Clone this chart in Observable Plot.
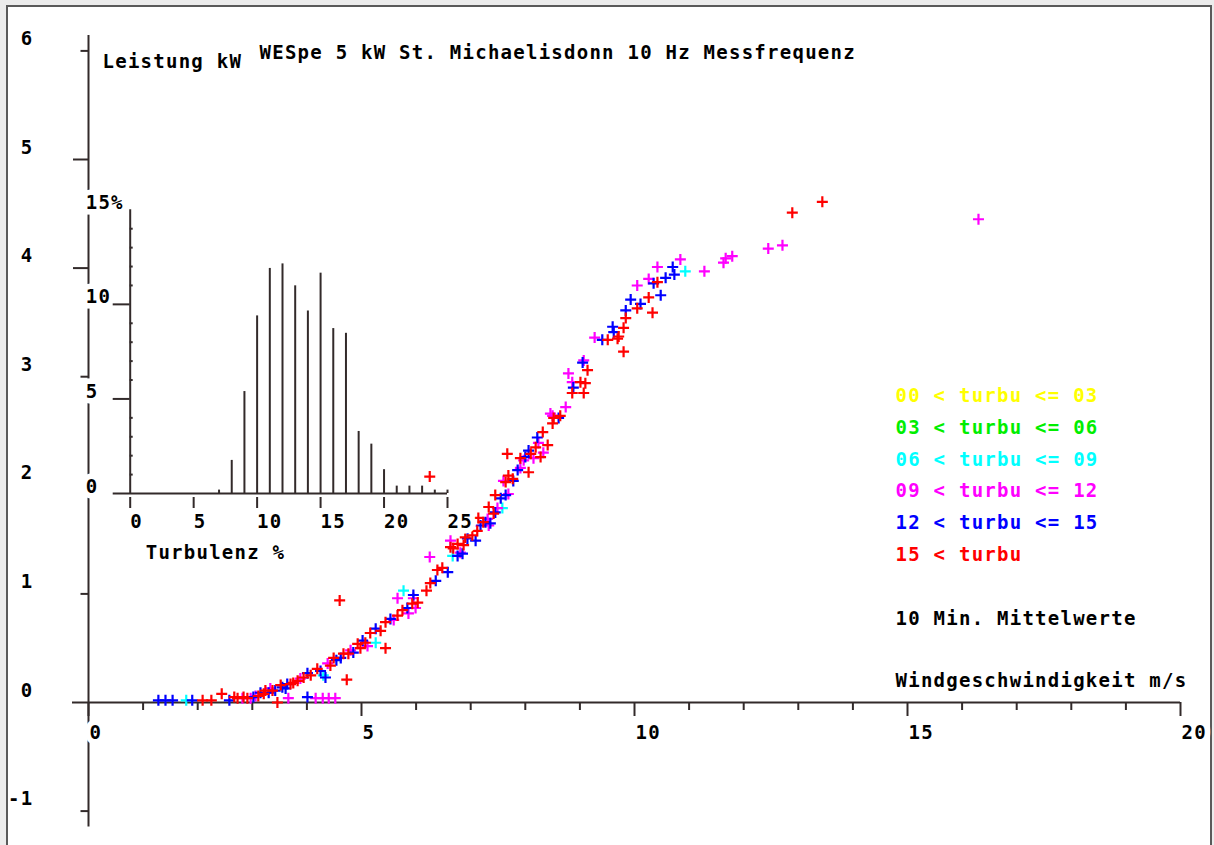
<!DOCTYPE html>
<html><head><meta charset="utf-8">
<script src="https://cdn.jsdelivr.net/npm/d3@7"></script>
<script src="https://cdn.jsdelivr.net/npm/@observablehq/plot@0.6"></script>
<style>
html,body{margin:0;padding:0;background:#fff;}
#wrap{position:relative;width:1214px;height:845px;overflow:hidden;background:#ececec;}
#frame{position:absolute;left:6px;top:5px;width:1206px;height:900px;background:#fff;border:2px solid #5a5a5a;box-sizing:border-box;}
#wrap svg{position:absolute;left:0;top:0;}
#wrap svg text{letter-spacing:1.25px;}
</style></head><body>
<div id="wrap"><div id="frame"></div></div>
<script>
// ---------- data ----------
// 06 < turbu <= 09 (cyan)
const ws_06_09 = [1.79, 4.30, 5.26, 5.77, 6.67, 7.58, 10.93];
const kw_06_09 = [0.02, 0.25, 0.55, 1.03, 1.35, 1.79, 3.97];
// 09 < turbu <= 12 (magenta)
const ws_09_12 = [2.82, 2.97, 3.06, 3.33, 3.66, 3.88, 4.16, 4.29, 4.40, 4.52, 4.38, 4.80, 5.11, 5.59, 5.86, 5.99, 5.66, 5.95, 6.25, 6.63, 6.81, 7.31, 7.33, 7.49, 7.60, 7.69, 7.91, 7.97, 8.15, 8.24, 8.33, 8.50, 8.46, 8.74, 8.79, 8.86, 9.07, 9.27, 10.05, 10.26, 10.42, 10.84, 11.28, 11.63, 11.67, 11.79, 12.45, 12.71, 16.30];
const kw_09_12 = [0.04, 0.04, 0.06, 0.13, 0.04, 0.22, 0.04, 0.04, 0.04, 0.04, 0.36, 0.48, 0.52, 0.76, 0.82, 0.87, 0.96, 0.96, 1.34, 1.49, 1.38, 1.69, 1.63, 1.79, 2.04, 1.92, 2.16, 2.23, 2.25, 2.39, 2.30, 2.64, 2.66, 2.72, 3.03, 2.95, 3.15, 3.36, 3.84, 3.90, 4.01, 4.08, 3.97, 4.05, 4.09, 4.11, 4.18, 4.21, 4.45];
// 12 < turbu <= 15 (blue)
const ws_12_15 = [1.28, 1.41, 1.54, 1.90, 2.58, 3.02, 3.15, 3.30, 3.42, 3.55, 3.61, 3.64, 4.01, 4.01, 4.25, 4.34, 4.54, 4.62, 4.85, 5.02, 5.26, 5.53, 5.84, 5.95, 6.36, 6.58, 6.76, 6.85, 6.94, 7.09, 7.18, 7.27, 7.36, 7.45, 7.55, 7.64, 7.78, 7.86, 8.00, 8.06, 8.22, 8.61, 8.88, 9.05, 9.41, 9.60, 9.62, 9.84, 9.93, 10.11, 10.35, 10.48, 10.57, 10.70, 10.73];
const kw_12_15 = [0.02, 0.02, 0.02, 0.02, 0.02, 0.05, 0.09, 0.09, 0.11, 0.14, 0.13, 0.17, 0.05, 0.27, 0.29, 0.23, 0.39, 0.41, 0.46, 0.57, 0.68, 0.77, 0.87, 0.99, 1.12, 1.20, 1.35, 1.37, 1.51, 1.49, 1.63, 1.66, 1.65, 1.75, 1.88, 1.91, 2.04, 2.14, 2.26, 2.32, 2.44, 2.62, 2.90, 3.13, 3.34, 3.46, 3.41, 3.61, 3.71, 3.67, 3.86, 3.75, 3.91, 4.01, 3.94];
// 15 < turbu (red)
const ws_15 = [2.09, 2.25, 2.44, 2.67, 2.73, 2.84, 2.91, 3.11, 3.21, 3.24, 3.37, 3.46, 3.52, 3.70, 3.75, 3.83, 3.94, 4.07, 4.19, 4.43, 4.49, 4.60, 4.67, 4.73, 4.76, 4.93, 4.98, 5.07, 5.16, 5.35, 5.44, 5.44, 5.66, 5.75, 5.93, 6.03, 6.19, 6.25, 6.26, 6.39, 6.48, 6.63, 6.68, 6.76, 6.87, 6.90, 7.03, 7.12, 7.14, 7.23, 7.33, 7.42, 7.45, 7.64, 7.69, 7.77, 7.67, 7.91, 8.06, 8.10, 8.19, 8.28, 8.32, 8.41, 8.50, 8.52, 8.64, 8.86, 9.01, 9.07, 9.10, 9.14, 9.51, 9.69, 9.71, 9.80, 9.80, 9.84, 10.05, 10.26, 10.33, 10.42, 12.89, 13.44];
const kw_15 = [0.02, 0.02, 0.08, 0.05, 0.04, 0.05, 0.04, 0.06, 0.08, 0.11, 0.11, 0.00, 0.16, 0.17, 0.18, 0.20, 0.23, 0.25, 0.31, 0.34, 0.41, 0.94, 0.45, 0.21, 0.45, 0.54, 0.50, 0.55, 0.64, 0.66, 0.74, 0.50, 0.80, 0.85, 0.91, 0.92, 1.03, 2.08, 1.10, 1.22, 1.24, 1.43, 1.42, 1.46, 1.45, 1.52, 1.54, 1.58, 1.70, 1.66, 1.80, 1.74, 1.91, 2.03, 2.09, 2.06, 2.29, 2.25, 2.12, 2.29, 2.35, 2.26, 2.49, 2.37, 2.57, 2.62, 2.64, 2.85, 2.95, 2.85, 2.94, 3.06, 3.34, 3.35, 3.37, 3.23, 3.45, 3.54, 3.63, 3.73, 3.59, 3.87, 4.51, 4.61];

// legend
const legendLabels = ["00 < turbu <= 03", "03 < turbu <= 06", "06 < turbu <= 09", "09 < turbu <= 12", "12 < turbu <= 15", "15 < turbu"];
const legendColors = ["#ffff00", "#00ee00", "#00ffff", "#ff00ff", "#0000ff", "#ff0000"];

// turbulence histogram (inset)
const turbBins = [7, 8, 9, 10, 11, 12, 13, 14, 15, 16, 17, 18, 19, 20, 21, 22, 23, 24, 25];
const turbPct  = [0.18, 1.75, 5.39, 9.39, 11.9, 12.14, 10.98, 9.65, 11.65, 8.72, 8.47, 3.28, 2.61, 1.26, 0.39, 0.39, 0.39, 0.18, 0.18];

// ticks / labels
const xMajorTicks = [0, 5, 10, 15, 20];
const xMinorTicks = [1, 2, 3, 4, 6, 7, 8, 9, 11, 12, 13, 14, 16, 17, 18, 19];
const yLabelTicks = [-1, 0, 1, 2, 3, 4, 5, 6];
const yLongTicks = [4, 5];
const yShortTicks = [-1, 1, 3, 6];
const insetXTicks = [0, 5, 10, 15, 20, 25];
const insetYTicks = [0, 5, 10, 15];
const insetYLabels = ["0", "5", "10", "15%"];
const insetYMajor = [5, 10];
const insetYMinor = [1, 2, 3, 4, 6, 7, 8, 9, 11, 12, 13, 14];

const titleText = "WESpe 5 kW St. Michaelisdonn 10 Hz Messfrequenz";
const yAxisTitle = "Leistung kW";
const xAxisTitle = "Windgeschwindigkeit m/s";
const noteText = "10 Min. Mittelwerte";
const insetXTitle = "Turbulenz %";

// ---------- build ----------
const groups = [
  {ws: ws_06_09, kw: kw_06_09, color: legendColors[2]},
  {ws: ws_09_12, kw: kw_09_12, color: legendColors[3]},
  {ws: ws_12_15, kw: kw_12_15, color: legendColors[4]},
  {ws: ws_15,    kw: kw_15,    color: legendColors[5]}
];
const points = groups.flatMap(g => g.ws.map((w, i) => ({ws: w, kw: g.kw[i], color: g.color})));
const hist = turbBins.map((b, i) => ({bin: b, pct: turbPct[i]}));

const plusSymbol = {draw(ctx) { const r = 5.5; ctx.moveTo(-r, 0); ctx.lineTo(r, 0); ctx.moveTo(0, -r); ctx.lineTo(0, r); }};

const AX = "#322a2a";
const font = {fontFamily: "DejaVu Sans Mono", fontWeight: "bold", fontSize: 19};
const zero = () => 0;

const main = Plot.plot({
  width: 1214, height: 845,
  marginLeft: 88, marginRight: 34, marginTop: 50.4, marginBottom: 34.4,
  x: {domain: [0, 20], axis: null},
  y: {domain: [-1, 6], axis: null},
  color: {type: "identity"},
  style: {background: "transparent", overflow: "visible", color: "#000"},
  marks: [
    Plot.ruleY([0], {insetLeft: -16, stroke: AX, strokeWidth: 2}),
    Plot.ruleX([0], {insetTop: -15.4, insetBottom: -16, stroke: AX, strokeWidth: 2}),
    Plot.ruleX(xMajorTicks, {x: d => d, y1: zero, y2: zero, insetBottom: -14, stroke: AX, strokeWidth: 2}),
    Plot.ruleX(xMinorTicks, {x: d => d, y1: zero, y2: zero, insetBottom: -8, stroke: AX, strokeWidth: 2}),
    Plot.ruleY(yLongTicks, {y: d => d, x1: zero, x2: zero, insetLeft: -15, stroke: AX, strokeWidth: 2}),
    Plot.ruleY(yShortTicks, {y: d => d, x1: zero, x2: zero, insetLeft: -7.5, stroke: AX, strokeWidth: 2}),
    Plot.dot(points, {x: "ws", y: "kw", stroke: "color", fill: "none", symbol: plusSymbol, strokeWidth: 2.2}),
    Plot.text(yLabelTicks, {y: d => d, text: d => `${d}`, frameAnchor: "left", dx: -55, dy: -12, textAnchor: "end", fill: "#000", ...font}),
    Plot.text(xMajorTicks, {x: d => d, y: zero, text: d => `${d}`, dx: 1, dy: 30, textAnchor: "start", fill: "#000", stroke: "white", strokeWidth: 11, ...font}),
    Plot.text([titleText], {frameAnchor: "top-left", lineAnchor: "middle", dx: 171, dy: 2.3, textAnchor: "start", fill: "#000", ...font}),
    Plot.text([yAxisTitle], {frameAnchor: "top-left", lineAnchor: "middle", dx: 14, dy: 10.8, textAnchor: "start", fill: "#000", ...font}),
    ...legendLabels.map((t, i) => Plot.text([t], {frameAnchor: "top-left", lineAnchor: "middle", dx: 807, dy: 345.1 + i * 31.8, textAnchor: "start", fill: legendColors[i], ...font})),
    Plot.text([noteText], {frameAnchor: "top-left", lineAnchor: "middle", dx: 807, dy: 567.6, textAnchor: "start", fill: "#000", ...font}),
    Plot.text([xAxisTitle], {frameAnchor: "top-left", lineAnchor: "middle", dx: 807, dy: 630.4, textAnchor: "start", fill: "#000", ...font})
  ]
});

const inset = Plot.plot({
  width: 1214, height: 845,
  marginLeft: 129.7, marginRight: 767, marginTop: 209.3, marginBottom: 352,
  x: {domain: [0, 25], axis: null},
  y: {domain: [0, 15], axis: null},
  style: {background: "transparent", overflow: "visible", color: "#000"},
  marks: [
    Plot.text(insetYTicks, {y: d => d, text: (d, i) => insetYLabels[i], frameAnchor: "left", dx: -44.5, dy: -7, textAnchor: "start", fill: "#000", stroke: "white", strokeWidth: 11, ...font}),
    Plot.text(insetXTicks, {x: d => d, y: zero, text: d => `${d}`, dx: 0, dy: 28.5, textAnchor: "start", fill: "#000", stroke: "white", strokeWidth: 11, ...font}),
    Plot.text([insetXTitle], {frameAnchor: "bottom-left", lineAnchor: "middle", dx: 15.5, dy: 59, textAnchor: "start", fill: "#000", ...font}),
    Plot.ruleY([0], {insetLeft: -17, stroke: AX, strokeWidth: 2}),
    Plot.ruleX([0], {stroke: AX, strokeWidth: 2}),
    Plot.ruleY(insetYMajor, {y: d => d, x1: zero, x2: zero, insetLeft: -17, stroke: AX, strokeWidth: 2}),
    Plot.ruleY(insetYMinor, {y: d => d, x1: zero, x2: zero, insetRight: -3, stroke: AX, strokeWidth: 2}),
    Plot.ruleX(insetXTicks, {x: d => d, y1: zero, y2: zero, insetTop: 4, insetBottom: -15, stroke: AX, strokeWidth: 2}),
    Plot.ruleX(hist, {x: "bin", y1: zero, y2: "pct", stroke: AX, strokeWidth: 2})
  ]
});

const wrap = document.getElementById("wrap");
wrap.appendChild(main);
wrap.appendChild(inset);
</script>
</body></html>
